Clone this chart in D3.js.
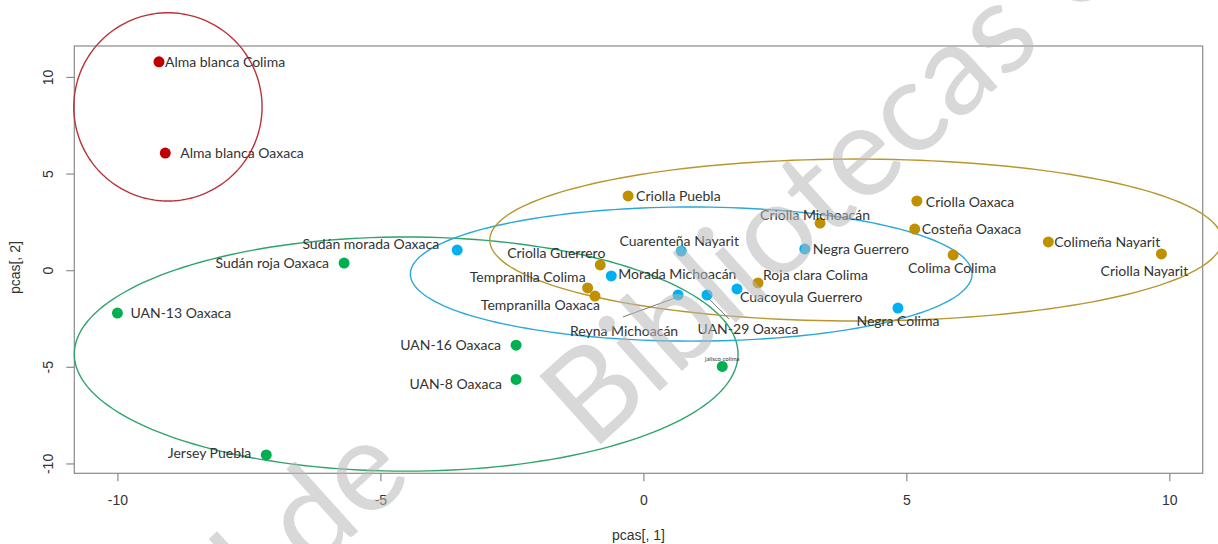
<!DOCTYPE html>
<html>
<head>
<meta charset="utf-8">
<script src="https://cdn.jsdelivr.net/npm/d3@7"></script>
<style>
  html, body { margin: 0; padding: 0; background: #fff; }
  svg { display: block; }
</style>
</head>
<body>
<svg id="chart" width="1218" height="544"></svg>
<script>
// Variety names and their first two principal component scores
const names = [
  "Alma blanca Colima", "Alma blanca Oaxaca",
  "Sudán roja Oaxaca", "UAN-13 Oaxaca", "UAN-16 Oaxaca", "UAN-8 Oaxaca", "Jersey Puebla", "jalisco colima",
  "Sudán morada Oaxaca", "Cuarenteña Nayarit", "Morada Michoacán", "Reyna Michoacán", "UAN-29 Oaxaca",
  "Cuacoyula Guerrero", "Negra Guerrero", "Negra Colima",
  "Criolla Puebla", "Criolla Guerrero", "Tempranilla Colima", "Tempranilla Oaxaca", "Criolla Michoacán",
  "Roja clara Colima", "Criolla Oaxaca", "Costeña Oaxaca", "Colima Colima", "Colimeña Nayarit", "Criolla Nayarit"
];
const pc1 = [
  -9.21, -9.09,
  -5.69, -10.0, -2.42, -2.42, -7.17, 1.50,
  -3.54, 0.72, -0.61, 0.66, 1.21,
  1.78, 3.07, 4.84,
  -0.29, -0.82, -1.06, -0.92, 3.36,
  2.18, 5.20, 5.16, 5.89, 7.70, 9.85
];
const pc2 = [
  10.78, 6.06,
  0.37, -2.22, -3.88, -5.65, -9.56, -4.98,
  1.04, 0.99, -0.30, -1.28, -1.28,
  -0.97, 1.10, -1.96,
  3.84, 0.27, -0.92, -1.34, 2.44,
  -0.66, 3.58, 2.13, 0.79, 1.46, 0.84
];
const group = [
  1, 1,
  2, 2, 2, 2, 2, 2,
  3, 3, 3, 3, 3, 3, 3, 3,
  4, 4, 4, 4, 4, 4, 4, 4, 4, 4, 4
];

// Cluster ellipses: centre and semi-axes in PC units
const ellipseGroup = [1, 2, 3, 4];
const ellipseCx = [-9.04, -4.51, 0.91, 4.04];
const ellipseCy = [8.45, -4.34, -0.20, 1.56];
const ellipseRx = [1.79, 6.31, 5.34, 6.96];
const ellipseRy = [4.87, 6.06, 3.47, 4.19];

const xTicks = [-10, -5, 0, 5, 10];
const yTicks = [-10, -5, 0, 5, 10];

// Styling
const pointColor = { 1: "#c00000", 2: "#00b050", 3: "#00b0f0", 4: "#bf9000" };
const ellipseColor = { 1: "#b8333a", 2: "#2ea36a", 3: "#2aa8d8", 4: "#b8962e" };

// Label placement relative to each point: [dx, dy, anchor, fontSize]
const labelPlacement = {
  "Alma blanca Colima": [6, 0, "start"],
  "Alma blanca Oaxaca": [15, 0, "start"],
  "Sudán roja Oaxaca": [-15, 0, "end"],
  "UAN-13 Oaxaca": [13, 0, "start"],
  "UAN-16 Oaxaca": [-15, 0, "end"],
  "UAN-8 Oaxaca": [-14, 5, "end"],
  "Jersey Puebla": [-15, -2, "end"],
  "jalisco colima": [0, -8, "middle", 6],
  "Sudán morada Oaxaca": [-18, -6, "end"],
  "Cuarenteña Nayarit": [-2, -10, "middle"],
  "Morada Michoacán": [7, -2, "start"],
  "Reyna Michoacán": [-54, 36, "middle"],
  "UAN-29 Oaxaca": [41, 34, "middle"],
  "Cuacoyula Guerrero": [3, 8, "start"],
  "Negra Guerrero": [8, 0, "start"],
  "Negra Colima": [0, 13, "middle"],
  "Criolla Puebla": [8, 0, "start"],
  "Criolla Guerrero": [-44, -12, "middle"],
  "Tempranilla Colima": [-2, -11, "end"],
  "Tempranilla Oaxaca": [5, 9, "end"],
  "Criolla Michoacán": [-5, -8, "middle"],
  "Roja clara Colima": [5, -8, "start"],
  "Criolla Oaxaca": [9, 1, "start"],
  "Costeña Oaxaca": [7, 0, "start"],
  "Colima Colima": [-1, 13, "middle"],
  "Colimeña Nayarit": [6, 0, "start"],
  "Criolla Nayarit": [-17, 17, "middle"]
};
// Leader lines from a label back to its point: [dx, dy] of the far end
const leaders = {
  "Reyna Michoacán": [-55, 22],
  "UAN-29 Oaxaca": [22, 24]
};

const svg = d3.select("#chart");
const plotLeft = 74.3, plotRight = 1202.7, plotTop = 46, plotBottom = 473.3;

const x = d3.scaleLinear().domain([-10.82, 10.635]).range([plotLeft, plotRight]);
const y = d3.scaleLinear().domain([-10.51, 11.6]).range([plotBottom, plotTop]);

const axisColor = "#8a8a8a";
const axisFont = "'Liberation Sans', Arial, sans-serif";
const labelFont = "Lato, 'Open Sans', sans-serif";

// Plot frame
svg.append("rect")
  .attr("x", plotLeft).attr("y", plotTop)
  .attr("width", plotRight - plotLeft).attr("height", plotBottom - plotTop)
  .attr("fill", "none").attr("stroke", axisColor).attr("stroke-width", 1.2);

// X axis
const gx = svg.append("g")
  .attr("transform", `translate(0,${plotBottom})`)
  .call(d3.axisBottom(x).tickValues(xTicks).tickSize(8).tickSizeOuter(0).tickPadding(14));
gx.select(".domain").remove();
gx.selectAll("line").attr("stroke", axisColor).attr("stroke-width", 1.2);
gx.selectAll("text").attr("fill", "#333").attr("font-size", 14).attr("font-family", axisFont)
  .text(d => d < 0 ? "-" + Math.abs(d) : d);

// Y axis
const gy = svg.append("g")
  .attr("transform", `translate(${plotLeft},0)`)
  .call(d3.axisLeft(y).tickValues(yTicks).tickSize(8).tickSizeOuter(0).tickFormat(""));
gy.select(".domain").remove();
gy.selectAll("line").attr("stroke", axisColor).attr("stroke-width", 1.2);
gy.selectAll(".tick").append("text")
  .attr("transform", "translate(-21,0) rotate(-90)")
  .attr("text-anchor", "middle")
  .attr("fill", "#333").attr("font-size", 14).attr("font-family", axisFont)
  .text(d => d < 0 ? "-" + Math.abs(d) : d);

// Axis titles
svg.append("text")
  .attr("x", (plotLeft + plotRight) / 2).attr("y", 540)
  .attr("text-anchor", "middle").attr("fill", "#333")
  .attr("font-size", 14).attr("font-family", axisFont)
  .text("pcas[, 1]");
svg.append("text")
  .attr("transform", `translate(20,${(plotTop + plotBottom) / 2 + 8}) rotate(-90)`)
  .attr("text-anchor", "middle").attr("fill", "#333")
  .attr("font-size", 14).attr("font-family", axisFont)
  .text("pcas[, 2]");

// Cluster ellipses, traced in PC space and mapped through the scales
const line = d3.line().x(p => x(p[0])).y(p => y(p[1])).curve(d3.curveLinearClosed);
ellipseGroup.forEach((g, i) => {
  const pts = d3.range(0, 360, 2).map(a => {
    const t = a * Math.PI / 180;
    return [ellipseCx[i] + ellipseRx[i] * Math.cos(t), ellipseCy[i] + ellipseRy[i] * Math.sin(t)];
  });
  svg.append("path")
    .attr("d", line(pts))
    .attr("fill", "none")
    .attr("stroke", ellipseColor[g])
    .attr("stroke-width", 1.4);
});

const data = names.map((n, i) => ({ name: n, pc1: pc1[i], pc2: pc2[i], group: group[i] }));

// Leader lines
svg.append("g").selectAll("line")
  .data(data.filter(d => leaders[d.name]))
  .join("line")
  .attr("x1", d => x(d.pc1)).attr("y1", d => y(d.pc2) + 2)
  .attr("x2", d => x(d.pc1) + leaders[d.name][0])
  .attr("y2", d => y(d.pc2) + leaders[d.name][1])
  .attr("stroke", "#777").attr("stroke-width", 1);

// Points
svg.append("g").selectAll("circle")
  .data(data)
  .join("circle")
  .attr("cx", d => x(d.pc1))
  .attr("cy", d => y(d.pc2))
  .attr("r", 5.5)
  .attr("fill", d => pointColor[d.group]);

// Labels
svg.append("g").selectAll("text")
  .data(data)
  .join("text")
  .attr("x", d => x(d.pc1) + labelPlacement[d.name][0])
  .attr("y", d => y(d.pc2) + labelPlacement[d.name][1])
  .attr("dy", "0.35em")
  .attr("text-anchor", d => labelPlacement[d.name][2])
  .attr("font-size", d => labelPlacement[d.name][3] || 14)
  .attr("font-family", labelFont)
  .attr("fill", "#333")
  .text(d => d.name);

// Library watermark
const wmStyle = g => g.attr("font-family", labelFont)
  .attr("font-size", 128)
  .attr("fill", "#b8b8b8")
  .attr("fill-opacity", 0.55);
svg.append("text")
  .attr("transform", "translate(415,480) rotate(-42)")
  .attr("text-anchor", "end")
  .call(wmStyle)
  .text("General de");
svg.append("text")
  .attr("transform", "translate(592,452) rotate(-42)")
  .attr("text-anchor", "start")
  .call(wmStyle)
  .text("Bibliotecas UAQ");
</script>
</body>
</html>
